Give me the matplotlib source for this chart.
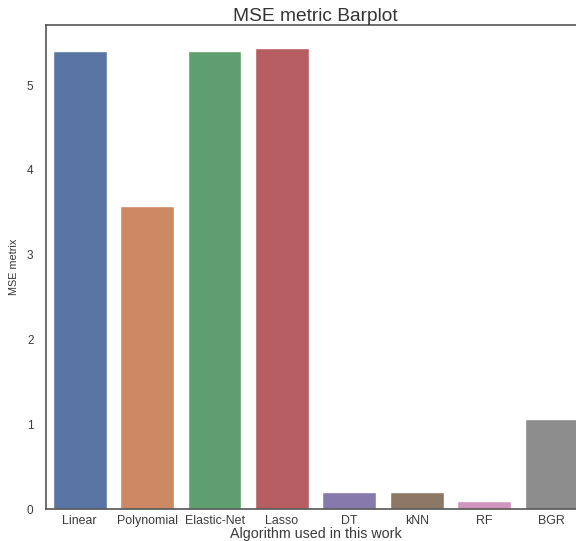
import matplotlib
matplotlib.use("Agg")
import matplotlib.pyplot as plt
import seaborn as sns
import pandas as pd

algorithms = ["Linear", "Polynomial", "Elastic-Net", "Lasso", "DT", "kNN", "RF", "BGR"]
mse_values = [5.405, 3.57, 5.405, 5.437, 0.197, 0.195, 0.095, 1.067]

sns.set_style("white")
plt.rcParams["font.family"] = ["Liberation Sans", "DejaVu Sans"]

df = pd.DataFrame({"algorithm": algorithms, "mse": mse_values})

fig = plt.figure(figsize=(5.76, 5.41), dpi=100)
ax = fig.add_axes([0.0799, 0.0591, 0.936, 0.8946])
sns.barplot(data=df, x="algorithm", y="mse", hue="algorithm",
            palette="deep", legend=False, ax=ax)

ax.set_title("MSE metric Barplot", fontsize=13.8, color="#333333", pad=3)
ax.set_xlabel("Algorithm used in this work", fontsize=10.3, color="#3a3a3a", labelpad=0)
ax.set_ylabel("MSE metrix", fontsize=7.8, color="#333333", labelpad=6)
ax.tick_params(axis="x", labelsize=8.9, colors="#3a3a3a", length=0, pad=4)
ax.tick_params(axis="y", labelsize=8.5, colors="#3a3a3a", length=0, pad=9)
ax.set_yticks([0, 1, 2, 3, 4, 5])
for s in ax.spines.values():
    s.set_color("#555555")
    s.set_linewidth(1.2)

fig.savefig("out.png", dpi=100)
